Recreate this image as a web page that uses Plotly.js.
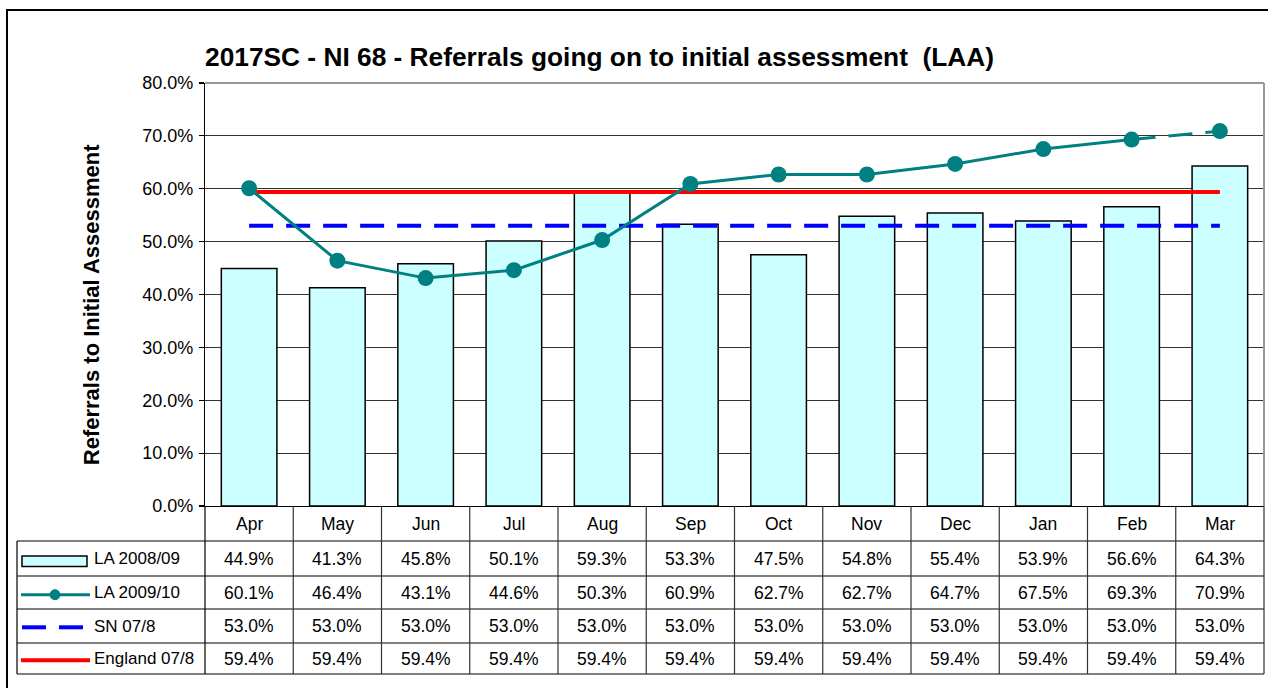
<!DOCTYPE html>
<html>
<head>
<meta charset="utf-8">
<script src="https://cdn.plot.ly/plotly-3.0.1.min.js"></script>
<style>
  html, body { margin: 0; padding: 0; background: #ffffff; }
  #chart { width: 1268px; height: 688px; }
</style>
</head>
<body>
<div id="chart"></div>
<script>
// ---- Data ----
const months = ['Apr', 'May', 'Jun', 'Jul', 'Aug', 'Sep', 'Oct', 'Nov', 'Dec', 'Jan', 'Feb', 'Mar'];
const la0809 = [44.9, 41.3, 45.8, 50.1, 59.3, 53.3, 47.5, 54.8, 55.4, 53.9, 56.6, 64.3];
const la0910 = [60.1, 46.4, 43.1, 44.6, 50.3, 60.9, 62.7, 62.7, 64.7, 67.5, 69.3, 70.9];
const sn078 = [53.0, 53.0, 53.0, 53.0, 53.0, 53.0, 53.0, 53.0, 53.0, 53.0, 53.0, 53.0];
const eng078 = [59.4, 59.4, 59.4, 59.4, 59.4, 59.4, 59.4, 59.4, 59.4, 59.4, 59.4, 59.4];
const seriesNames = ['LA 2008/09', 'LA 2009/10', 'SN 07/8', 'England 07/8'];
const chartTitle = '2017SC - NI 68 - Referrals going on to initial assessment \u00a0(LAA)';
const yTitle = 'Referrals to Initial Assessment';

// ---- Layout geometry (pixels) ----
const W = 1268, H = 688;
const PL = 205, PR = 1264, PT = 83, PB = 506;
const pw = PR - PL, ph = PB - PT;
const px = x => (x - PL) / pw;
const py = y => (PB - y) / ph;

const FONT = 'Liberation Sans, Arial, sans-serif';
const TEAL = '#008080';
const rowLines = [541, 576, 609, 643, 674];
const rowCenters = [558.5, 592.5, 626, 658.5];
const tableLeft = 17;

const traces = [
  { type: 'bar', x: months, y: la0809, name: seriesNames[0], width: 0.63,
    marker: { color: '#CCFFFF', line: { color: '#000000', width: 1.5 } }, hoverinfo: 'x+y' },
  { type: 'scatter', mode: 'lines', x: months, y: eng078, name: seriesNames[3],
    line: { color: '#FF0000', width: 4 } },
  { type: 'scatter', mode: 'lines', x: months, y: sn078, name: seriesNames[2],
    line: { color: '#0000FF', width: 4, dash: '24px,13px' } },
  { type: 'scatter', mode: 'lines', x: months.slice(0, 11), y: la0910.slice(0, 11), name: seriesNames[1],
    line: { color: TEAL, width: 3 } },
  { type: 'scatter', mode: 'lines', x: months.slice(10), y: la0910.slice(10), name: seriesNames[1],
    line: { color: TEAL, width: 3, dash: '24px,13px' } },
  { type: 'scatter', mode: 'markers', x: months, y: la0910, name: seriesNames[1],
    marker: { color: TEAL, size: 16 } }
];

const shapes = [];
const annotations = [];

// outer border
shapes.push({ type: 'rect', xref: 'paper', yref: 'paper', x0: px(7), x1: px(W + 5), y0: py(H + 5), y1: py(10),
  line: { color: '#000000', width: 2 }, fillcolor: 'rgba(0,0,0,0)', layer: 'below' });
// plot area top/right border (gray)
shapes.push({ type: 'line', xref: 'paper', yref: 'paper', x0: 0, x1: 1, y0: 1, y1: 1, line: { color: '#999999', width: 2 } });
shapes.push({ type: 'line', xref: 'paper', yref: 'paper', x0: 1, x1: 1, y0: 0, y1: 1, line: { color: '#999999', width: 2 } });

// table horizontal lines
rowLines.forEach(y => {
  shapes.push({ type: 'line', xref: 'paper', yref: 'paper', x0: px(tableLeft), x1: 1, y0: py(y), y1: py(y),
    line: { color: '#000000', width: 1.2 } });
});
// table vertical lines (category boundaries)
for (let i = 0; i <= months.length; i++) {
  shapes.push({ type: 'line', xref: 'paper', yref: 'paper', x0: i / months.length, x1: i / months.length,
    y0: py(PB), y1: py(rowLines[rowLines.length - 1]), line: { color: i === 0 ? '#000000' : '#333333', width: 1.2 } });
}
shapes.push({ type: 'line', xref: 'paper', yref: 'paper', x0: px(tableLeft), x1: px(tableLeft),
  y0: py(rowLines[0]), y1: py(rowLines[rowLines.length - 1]), line: { color: '#000000', width: 1.2 } });

// legend keys
shapes.push({ type: 'rect', xref: 'paper', yref: 'paper', x0: px(22), x1: px(87), y0: py(566.5), y1: py(556),
  fillcolor: '#CCFFFF', line: { color: '#000000', width: 1.5 } });
shapes.push({ type: 'line', xref: 'paper', yref: 'paper', x0: px(21), x1: px(90), y0: py(594.7), y1: py(594.7),
  line: { color: TEAL, width: 3 } });
shapes.push({ type: 'circle', xref: 'paper', yref: 'paper', x0: px(50), x1: px(60), y0: py(599.7), y1: py(589.7),
  fillcolor: TEAL, line: { color: TEAL, width: 1 } });
shapes.push({ type: 'line', xref: 'paper', yref: 'paper', x0: px(22), x1: px(46), y0: py(627.3), y1: py(627.3),
  line: { color: '#0000FF', width: 4 } });
shapes.push({ type: 'line', xref: 'paper', yref: 'paper', x0: px(59), x1: px(83), y0: py(627.3), y1: py(627.3),
  line: { color: '#0000FF', width: 4 } });
shapes.push({ type: 'line', xref: 'paper', yref: 'paper', x0: px(21), x1: px(90), y0: py(660.3), y1: py(660.3),
  line: { color: '#FF0000', width: 4 } });

// legend labels
seriesNames.forEach((n, r) => {
  annotations.push({ xref: 'paper', yref: 'paper', x: px(92), y: py(rowCenters[r]), xanchor: 'left', yanchor: 'middle',
    text: n, showarrow: false, font: { family: FONT, size: 17, color: '#000000' } });
});

// month headers
months.forEach(m => {
  annotations.push({ xref: 'x', yref: 'paper', x: m, y: py((PB + rowLines[0]) / 2), xanchor: 'center', yanchor: 'middle',
    text: m, showarrow: false, font: { family: FONT, size: 17.5, color: '#000000' } });
});

// cell values
const rows = [la0809, la0910, sn078, eng078];
rows.forEach((arr, r) => {
  arr.forEach((v, i) => {
    annotations.push({ xref: 'x', yref: 'paper', x: months[i], y: py(rowCenters[r]), xanchor: 'center', yanchor: 'middle',
      text: v.toFixed(1) + '%', showarrow: false, font: { family: FONT, size: 17.5, color: '#000000' } });
  });
});

// y-axis title
annotations.push({ xref: 'paper', yref: 'paper', x: px(91.7), y: py(304.5), xanchor: 'center', yanchor: 'middle',
  text: '<b>' + yTitle + '</b>', textangle: -90, showarrow: false, font: { family: FONT, size: 22, color: '#000000' } });

const layout = {
  width: W, height: H,
  margin: { l: PL, r: W - PR, t: PT, b: H - PB, pad: 0 },
  paper_bgcolor: '#ffffff', plot_bgcolor: '#ffffff',
  showlegend: false,
  bargap: 0.37,
  title: { text: '<b>' + chartTitle + '</b>', font: { family: FONT, size: 26.3, color: '#000000' },
    xref: 'paper', x: 0, xanchor: 'left', yref: 'container', y: 1 - 57 / H, yanchor: 'middle' },
  xaxis: { type: 'category', range: [-0.5, 11.5], showticklabels: false, ticks: '', showgrid: false,
    showline: true, linecolor: '#000000', linewidth: 1.2, zeroline: false, fixedrange: true },
  yaxis: { range: [0, 80], dtick: 10, tick0: 0, tickformat: '.1f', ticksuffix: '%', ticks: 'outside', ticklen: 5,
    tickcolor: '#000000', tickwidth: 1.2, showline: true, linecolor: '#000000', linewidth: 1.2,
    showgrid: true, gridcolor: '#333333', gridwidth: 1, zeroline: false,
    tickfont: { family: FONT, size: 18, color: '#000000' }, ticklabelstandoff: 2, fixedrange: true },
  shapes: shapes,
  annotations: annotations,
  font: { family: FONT }
};

Plotly.newPlot('chart', traces, layout, { displayModeBar: false, staticPlot: true });
</script>
</body>
</html>
